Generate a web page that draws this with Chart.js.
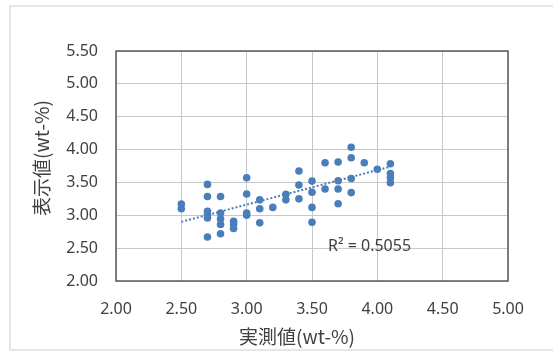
<!DOCTYPE html>
<html>
<head>
<meta charset="utf-8">
<script src="https://cdn.jsdelivr.net/npm/chart.js@4"></script>
<style>
  body { margin: 0; background: #fff; }
  canvas { display: block; }
</style>
</head>
<body>
<canvas id="chart" width="553" height="351"></canvas>
<script>
// 実測値 (x) と 表示値 (y)
const measured = [
    2.5, 2.5,
    2.7, 2.7, 2.7, 2.7, 2.7, 2.7,
    2.8, 2.8, 2.8, 2.8, 2.8,
    2.9, 2.9, 2.9,
    3.0, 3.0, 3.0, 3.0,
    3.1, 3.1, 3.1,
    3.2,
    3.3, 3.3,
    3.4, 3.4, 3.4,
    3.5, 3.5, 3.5, 3.5,
    3.6, 3.6,
    3.7, 3.7, 3.7, 3.7,
    3.8, 3.8, 3.8, 3.8,
    3.9,
    4.0,
    4.1, 4.1, 4.1, 4.1
];
const displayed = [
    3.17, 3.10,
    3.47, 3.285, 3.06, 3.01, 2.96, 2.67,
    3.285, 3.035, 2.945, 2.86, 2.72,
    2.91, 2.86, 2.80,
    3.57, 3.325, 3.035, 3.00,
    3.235, 3.10, 2.885,
    3.12,
    3.32, 3.235,
    3.675, 3.46, 3.25,
    3.52, 3.35, 3.12, 2.895,
    3.80, 3.40,
    3.81, 3.525, 3.40, 3.175,
    4.035, 3.875, 3.56, 3.345,
    3.80,
    3.70,
    3.785, 3.635, 3.57, 3.495
];

// 線形近似 (端点を図から読み取り)
const trendX = [2.5, 4.1];
const trendY = [2.90, 3.74];
const rSquaredLabel = "R² = 0.5055";

const xTicks = [2.0, 2.5, 3.0, 3.5, 4.0, 4.5, 5.0];
const yTicks = [2.0, 2.5, 3.0, 3.5, 4.0, 4.5, 5.0, 5.5];

const xTitle = "実測値(wt-%)";
const yTitle = "表示値(wt-%)";

const blue = "#4a7ebb";
const textColor = "#404040";

// 外枠・プロット枠・軸タイトル・R²
const decorPlugin = {
    id: "decor",
    beforeDraw(chart) {
        const ctx = chart.ctx;
        ctx.save();
        ctx.fillStyle = "#fff";
        ctx.fillRect(0, 0, chart.width, chart.height);
        ctx.strokeStyle = "#e6e6e6";
        ctx.lineWidth = 2;
        ctx.strokeRect(10, 6, 560, 344);
        ctx.restore();
    },
    beforeDatasetsDraw(chart) {
        const ctx = chart.ctx;
        const a = chart.chartArea;
        ctx.save();
        ctx.strokeStyle = "#595959";
        ctx.lineWidth = 1.5;
        ctx.strokeRect(a.left, a.top, a.right - a.left, a.bottom - a.top);
        ctx.restore();
    },
    afterDraw(chart) {
        const ctx = chart.ctx;
        const xs = chart.scales.x;
        const ys = chart.scales.y;
        ctx.save();
        ctx.fillStyle = textColor;
        ctx.textAlign = "center";
        ctx.textBaseline = "middle";

        ctx.font = '19px "Noto Sans CJK JP"';
        ctx.fillText(xTitle, 297, 337);

        ctx.translate(42, 158);
        ctx.rotate(-Math.PI / 2);
        ctx.fillText(yTitle, 0, 0);
        ctx.setTransform(1, 0, 0, 1, 0, 0);

        ctx.font = '16px "Noto Sans"';
        ctx.fillText(rSquaredLabel, xs.getPixelForValue(3.94), ys.getPixelForValue(2.53));
        ctx.restore();
    }
};

const points = measured.map((x, i) => ({ x: x, y: displayed[i] }));
const trend = trendX.map((x, i) => ({ x: x, y: trendY[i] }));

new Chart(document.getElementById("chart"), {
    type: "scatter",
    data: {
        datasets: [
            {
                data: points,
                backgroundColor: blue,
                borderColor: blue,
                pointRadius: 3.8,
                pointHoverRadius: 3.8,
                borderWidth: 0
            },
            {
                type: "line",
                data: trend,
                borderColor: blue,
                borderWidth: 2,
                borderDash: [2, 2],
                pointRadius: 0,
                fill: false
            }
        ]
    },
    options: {
        responsive: false,
        animation: false,
        devicePixelRatio: 1,
        layout: { padding: { top: 51, right: 45, left: 0, bottom: 0 } },
        plugins: {
            legend: { display: false },
            tooltip: { enabled: false }
        },
        scales: {
            x: {
                type: "linear",
                min: 2,
                max: 5,
                afterBuildTicks: s => { s.ticks = xTicks.map(v => ({ value: v })); },
                afterFit: s => { s.height = 70; },
                grid: { color: "#c8c8c8", lineWidth: 1, drawTicks: false },
                border: { display: false },
                ticks: {
                    padding: 19,
                    color: textColor,
                    font: { family: "Noto Sans", size: 16 },
                    callback: v => v.toFixed(2)
                }
            },
            y: {
                type: "linear",
                min: 2,
                max: 5.5,
                afterBuildTicks: s => { s.ticks = yTicks.map(v => ({ value: v })); },
                afterFit: s => { s.width = 116; },
                grid: { color: "#c8c8c8", lineWidth: 1, drawTicks: false },
                border: { display: false },
                ticks: {
                    padding: 18,
                    color: textColor,
                    font: { family: "Noto Sans", size: 16 },
                    callback: v => v.toFixed(2)
                }
            }
        }
    },
    plugins: [decorPlugin]
});
</script>
</body>
</html>
